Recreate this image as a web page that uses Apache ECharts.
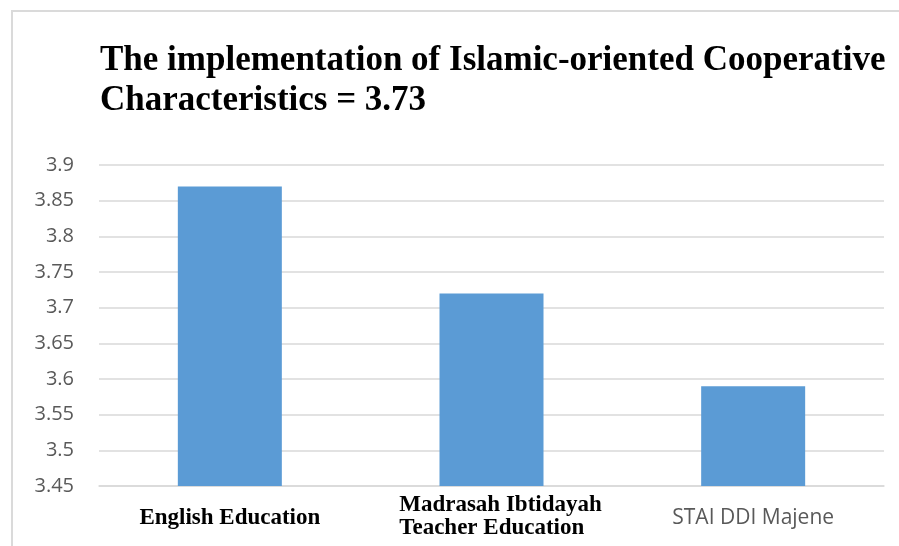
<!DOCTYPE html>
<html>
<head>
<meta charset="utf-8">
<script src="https://cdn.jsdelivr.net/npm/echarts@6/dist/echarts.min.js"></script>
<style>
  html, body { margin: 0; padding: 0; background: #fff; overflow: hidden; }
  #frame {
    position: absolute; left: 11px; top: 10px; width: 1000px; height: 700px;
    border: 2px solid #dadada; box-sizing: border-box;
  }
  #chart { position: absolute; left: 0; top: 0; width: 899px; height: 546px; }
</style>
</head>
<body>
<div id="frame"></div>
<div id="chart"></div>
<script>
// chart values
const categories = ['English Education', 'Madrasah Ibtidayah\nTeacher Education', 'STAI DDI Majene'];
const scores = [3.87, 3.72, 3.59];
const labelStyles = ['serifOne', 'serif', 'sans'];
const titleText = 'The implementation of Islamic-oriented Cooperative\nCharacteristics = 3.73';

const chart = echarts.init(document.getElementById('chart'));

const option = {
  animation: false,
  title: {
    text: titleText,
    left: 95,
    top: 36,
    textStyle: {
      fontFamily: 'Liberation Serif',
      fontWeight: 'bold',
      fontSize: 35,
      lineHeight: 40,
      color: '#000'
    }
  },
  grid: {
    left: 99,
    right: 15,
    top: 165,
    bottom: 60
  },
  xAxis: {
    type: 'category',
    data: categories,
    axisLine: { lineStyle: { color: '#d9d9d9', width: 1.5 } },
    axisTick: { show: false },
    axisLabel: {
      interval: 0,
      margin: 8,
      formatter: (value, idx) => {
        const style = labelStyles[idx];
        return value.split('\n').map(s => `{${style}|${s}}`).join('\n');
      },
      rich: {
        serif: {
          fontFamily: 'Liberation Serif',
          fontWeight: 'bold',
          fontSize: 23,
          lineHeight: 23,
          align: 'left',
          padding: [0, 0, 0, 18],
          color: '#000'
        },
        serifOne: {
          fontFamily: 'Liberation Serif',
          fontWeight: 'bold',
          fontSize: 23,
          lineHeight: 48,
          color: '#000'
        },
        sans: {
          fontFamily: 'Open Sans',
          fontSize: 21,
          lineHeight: 48,
          color: '#595959'
        }
      }
    }
  },
  yAxis: {
    type: 'value',
    min: 3.45,
    max: 3.9,
    interval: 0.05,
    axisLine: { show: false },
    axisTick: { show: false },
    splitLine: { lineStyle: { color: '#d9d9d9', width: 1.5 } },
    axisLabel: {
      margin: 25,
      fontFamily: 'Open Sans',
      fontSize: 20,
      color: '#595959',
      formatter: v => String(parseFloat(v.toFixed(2)))
    }
  },
  series: [
    {
      type: 'bar',
      data: scores,
      barWidth: 104,
      itemStyle: { color: '#5b9bd5' }
    }
  ]
};

chart.setOption(option);
</script>
</body>
</html>
